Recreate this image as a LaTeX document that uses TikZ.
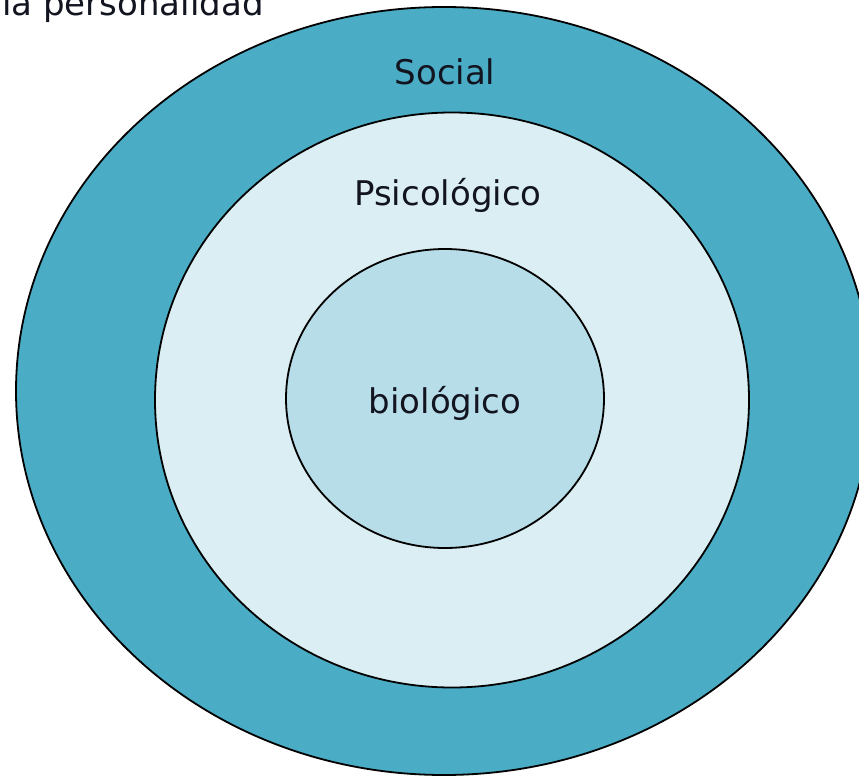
\documentclass[tikz,border=0pt]{standalone}
\usepackage{fontspec}
\setmainfont{DejaVu Sans}
\usetikzlibrary{shapes.geometric}
\definecolor{outerteal}{HTML}{4BACC6}
\definecolor{midblue}{HTML}{DAEEF3}
\definecolor{innerblue}{HTML}{B7DDE8}
\definecolor{txt}{HTML}{121420}
\tikzset{
  ring/.style={ellipse, draw=black, line width=1.8pt, inner sep=0pt},
  lbl/.style={text=txt, font=\fontsize{34}{40}\selectfont, inner sep=0pt, anchor=base}
}
\begin{document}
\begin{tikzpicture}[x=1pt,y=-1pt]
\useasboundingbox (0,0) rectangle (859,778);
\clip (0,0) rectangle (859,778);
\fill[white] (0,0) rectangle (859,778);
\node[ring, fill=outerteal, minimum width=856pt, minimum height=768pt] (social) at (444,391) {};
\node[ring, fill=midblue, minimum width=594pt, minimum height=575pt] (psico) at (452,400) {};
\node[ring, fill=innerblue, minimum width=318pt, minimum height=299pt] (bio) at (445,398.5) {};
\node[lbl] (tsocial) at (445,85) {Social};
\node[lbl] (tpsico) at (448,205) {Psicológico};
\node[lbl] (tbio) at (445,413) {biológico};
\node[lbl, anchor=base west] (title) at (2,16) {la personalidad};
\end{tikzpicture}
\end{document}
